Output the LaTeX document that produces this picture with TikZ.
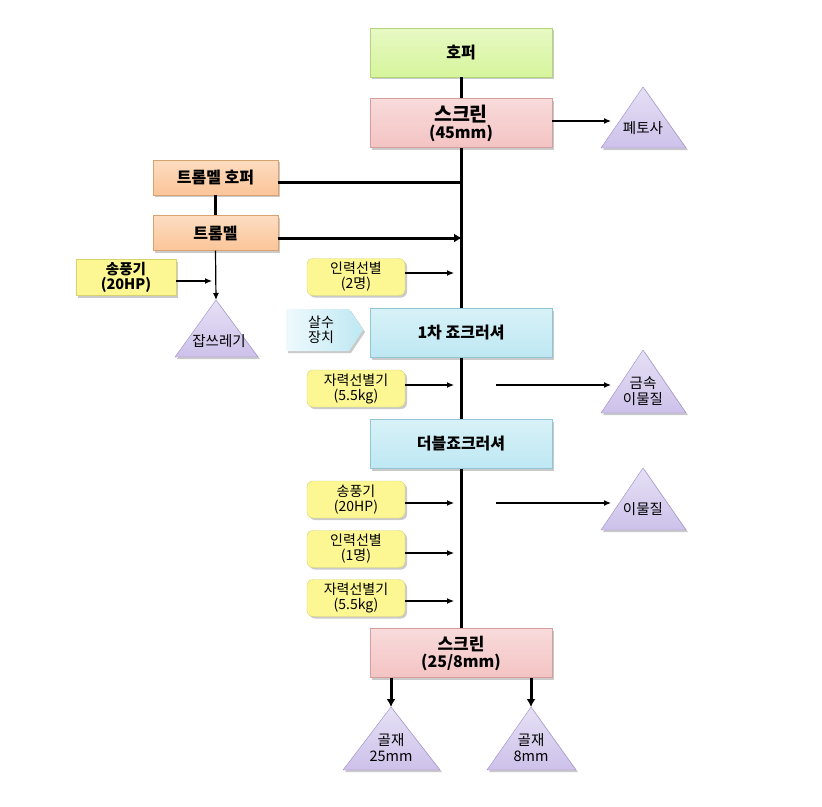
\documentclass[tikz,border=0pt]{standalone}
\usepackage{fontspec}
\setmainfont{Noto Sans CJK KR}
\usetikzlibrary{arrows.meta,shadows}
\definecolor{grn}{HTML}{D6F59C}
\definecolor{grnd}{HTML}{B5D27C}
\definecolor{pnk}{HTML}{F4C3C3}
\definecolor{pnkd}{HTML}{D49E9E}
\definecolor{org}{HTML}{FBC598}
\definecolor{orgd}{HTML}{D9A273}
\definecolor{blu}{HTML}{BEE8F3}
\definecolor{blud}{HTML}{93C6D4}
\definecolor{ylw}{HTML}{FCF793}
\definecolor{ylwd}{HTML}{D8D36E}
\definecolor{prp}{HTML}{CDC1EA}
\definecolor{prpd}{HTML}{9D8CC8}
\begin{document}
\begin{tikzpicture}[x=1pt,y=-1pt,
  shd/.style={drop shadow={shadow xshift=2pt,shadow yshift=-2pt,opacity=0.35,fill=black!60}},
  mainbox/.style={shd,minimum width=182pt,minimum height=49pt,inner sep=0pt,align=center,font=\fontsize{16}{17}\selectfont\bfseries},
  greenbox/.style={mainbox,draw=grnd,top color=grn!60,bottom color=grn},
  pinkbox/.style={mainbox,draw=pnkd,top color=pnk!60,bottom color=pnk},
  bluebox/.style={mainbox,draw=blud,top color=blu!60,bottom color=blu},
  orgbox/.style={shd,draw=orgd,top color=org!60,bottom color=org,minimum width=125pt,minimum height=35pt,inner sep=0pt,font=\fontsize{16}{17}\selectfont\bfseries},
  ybox/.style={shd,draw=ylwd,fill=ylw,minimum width=100pt,minimum height=36pt,inner sep=0pt,align=center,font=\fontsize{14.5}{15.5}\selectfont\bfseries},
  rbox/.style={shd,draw=ylwd,fill=ylw,rounded corners=6pt,minimum width=98pt,minimum height=37pt,inner sep=0pt,align=center,font=\fontsize{14}{15}\selectfont},
  tri/.style={shd,draw=prpd,top color=prp!50,bottom color=prp},
  tritext/.style={align=center,font=\fontsize{14.5}{16}\selectfont},
  trunk/.style={line width=3pt},
  thin/.style={line width=1.2pt,-{Latex[length=7pt,width=6pt]}},
  thick/.style={line width=3pt,-{Latex[length=8pt,width=9pt]}}
]
\useasboundingbox (0,0) rectangle (822,806);

% main column
\node[greenbox] (hopper) at (461,52.5) {호퍼};
\node[pinkbox] (scr1) at (461,123) {{\fontsize{19.5}{21}\selectfont 스크린}\\(45mm)};
\node[bluebox] (jaw1) at (461,333) {1차 죠크러셔};
\node[bluebox] (jaw2) at (461,444) {더블죠크러셔};
\node[pinkbox] (scr2) at (461,653) {{\fontsize{17}{18}\selectfont 스크린}\\(25/8mm)};

% left column
\node[orgbox] (thop) at (215.5,177.5) {트롬멜 호퍼};
\node[orgbox] (trom) at (215.5,233) {트롬멜};
\node[ybox] (fan1) at (126,277.5) {송풍기\\(20HP)};

% side yellow boxes
\node[rbox] (hand2) at (356,277) {인력선별\\(2명)};
\node[rbox] (mag1) at (356,388.5) {자력선별기\\(5.5kg)};
\node[rbox] (fan2) at (356,499.5) {송풍기\\(20HP)};
\node[rbox] (hand1) at (356,549) {인력선별\\(1명)};
\node[rbox] (mag2) at (356,598) {자력선별기\\(5.5kg)};

% sprinkler chevron
\shade[shd,left color=blu!25,right color=blu,draw=none] (286,309) -- (349,309) -- (363,330) -- (349,351) -- (286,351) -- cycle;
\node[align=center,font=\fontsize{14}{15}\selectfont] (spr) at (321,330) {살수\\장치};

% triangles
\coordinate (t1) at (643,87);
\path[tri] (t1) -- (686,148) -- (601,148) -- cycle;
\node[tritext] (t1l) at (643,128) {폐토사};
\coordinate (t2) at (216,300);
\path[tri] (t2) -- (258,357) -- (175,357) -- cycle;
\node[tritext] (t2l) at (219,341) {잡쓰레기};
\coordinate (t3) at (643,350);
\path[tri] (t3) -- (686,413) -- (601,413) -- cycle;
\node[tritext] (t3l) at (643,391) {금속\\이물질};
\coordinate (t4) at (643,468);
\path[tri] (t4) -- (686,530) -- (601,530) -- cycle;
\node[tritext] (t4l) at (643,509) {이물질};
\coordinate (t5) at (391,707);
\path[tri] (t5) -- (440,770) -- (343,770) -- cycle;
\node[tritext] (t5l) at (391,748) {골재\\25mm};
\coordinate (t6) at (531,707);
\path[tri] (t6) -- (576,770) -- (487,770) -- cycle;
\node[tritext] (t6l) at (531,748) {골재\\8mm};

% trunk line
\draw[trunk] (hopper.south) -- (scr1.north);
\draw[trunk] (scr1.south) -- (jaw1.north);
\draw[trunk] (jaw1.south) -- (jaw2.north);
\draw[trunk] (jaw2.south) -- (scr2.north);

% joins from trommel
\coordinate (j1) at (462,182);
\coordinate (j2) at (462,238);
\draw[trunk] (thop.east |- j1) -- (j1);
\draw[thick] (trom.east |- j2) -- (j2);
\draw[trunk] (thop.south) -- (trom.north);
\draw[thin] (trom.south) -- (t2);
\coordinate (f1) at (212,281);
\draw[thin] (fan1.east |- f1) -- (f1);

% arrows into trunk
\coordinate (a1) at (454,273);
\coordinate (a2) at (454,385);
\coordinate (a3) at (454,503);
\coordinate (a4) at (454,553);
\coordinate (a5) at (454,601);
\draw[thin] (hand2.east |- a1) -- (a1);
\draw[thin] (mag1.east |- a2) -- (a2);
\draw[thin] (fan2.east |- a3) -- (a3);
\draw[thin] (hand1.east |- a4) -- (a4);
\draw[thin] (mag2.east |- a5) -- (a5);

% arrows out to triangles
\coordinate (o0) at (611,121);
\draw[thin] (scr1.east |- o0) -- (o0);
\coordinate (o1s) at (496,385);
\coordinate (o1) at (611,385);
\draw[thin] (o1s) -- (o1);
\coordinate (o2s) at (496,503);
\coordinate (o2) at (611,503);
\draw[thin] (o2s) -- (o2);

% screen outputs
\draw[thick] (scr2.south -| t5) -- (t5);
\draw[thick] (scr2.south -| t6) -- (t6);
\end{tikzpicture}
\end{document}
